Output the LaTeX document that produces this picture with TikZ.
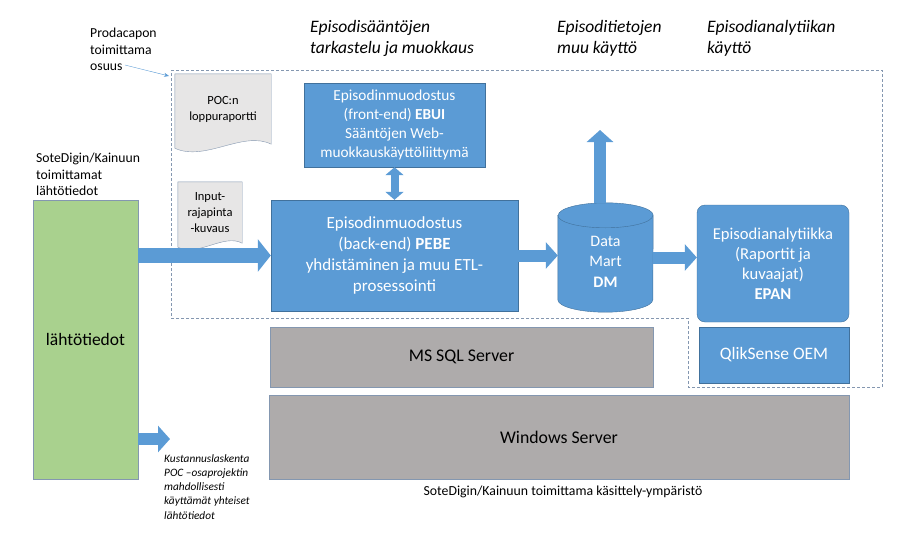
\documentclass[tikz,border=0pt]{standalone}
\usepackage{fontspec}
\setmainfont{Carlito}
\usepackage{tikz}
\usetikzlibrary{shapes,positioning,arrows.meta,backgrounds}
\definecolor{boxblue}{HTML}{5B9BD5}
\definecolor{boxline}{HTML}{41719C}
\definecolor{srvgray}{HTML}{AEABAB}
\definecolor{srvline}{HTML}{8497B0}
\definecolor{docgray}{HTML}{E7E6E6}
\definecolor{srcgreen}{HTML}{A9D18E}
\tikzstyle{fatarrow} = [boxblue, line width=12pt, -{Triangle[length=12pt,width=26pt]}]

\begin{document}
\begin{tikzpicture}[x=1pt,y=-1pt]

  \useasboundingbox (0,0) rectangle (904,538);

  \coordinate (Source) at (85.5,339.5);
  \coordinate (Poc) at (223,109);
  \coordinate (Input) at (210,212.5);
  \coordinate (Ebui) at (394.5,125);
  \coordinate (Pebe) at (394.5,255.5);
  \coordinate (Mart) at (605.5,257.5);
  \coordinate (Epan) at (773,263.5);
  \coordinate (Qlik) at (774,355);
  \coordinate (Sql) at (461.5,357);
  \coordinate (Win) at (559,437);
  \coordinate (MartOut) at (600,130);
  \coordinate (CostOut) at (170,439);
  \coordinate (FrameCorner) at (169,76);

  \tikzstyle{bbox}=[draw=boxline,fill=boxblue,text=white,
                    shape=rectangle,inner sep=2pt,align=center,
                    font=\fontsize{17}{21}\selectfont];
  \tikzstyle{gbox}=[draw=srvline,fill=srvgray,
                    shape=rectangle,inner sep=2pt,
                    font=\fontsize{17.8}{20}\selectfont];
  \tikzstyle{dbox}=[draw=srvline,fill=docgray];
  \tikzstyle{dtext}=[inner sep=0pt,align=center,
                    font=\fontsize{12.5}{16}\selectfont];
  \tikzstyle{note}=[inner sep=0pt,align=left,anchor=north west,
                    font=\fontsize{13.7}{16.5}\selectfont];
  \tikzstyle{head}=[inner sep=0pt,align=left,anchor=north west,
                    font=\fontsize{17.5}{21}\selectfont\itshape];

%  Prodacapon part
  \draw[srvline,dash pattern=on 3pt off 2pt]
       (171,70) -- (882,70) -- (882,387) -- (688,387)
       -- (688,318) -- (171,318) -- cycle;

  \node[head] (RuleHead) at (310,20) {Episodisääntöjen\\tarkastelu ja muokkaus};
  \node[head] (UseHead) at (557,20) {Episoditietojen\\muu käyttö};
  \node[head] (AnaHead) at (707,20) {Episodianalytiikan\\käyttö};

  \node[note] (ProdText) at (90,28) {Prodacapon\\toimittama\\osuus};
  \draw[boxblue,-{Stealth[length=5pt,width=4pt]}]
       ([xshift=-32pt,yshift=6pt]ProdText.south east) -- (FrameCorner);

  \node[note] (SoteText) at (36,153) {SoteDigin/Kainuun\\toimittamat\\lähtötiedot};

  \node[draw=srvline,fill=srcgreen,minimum width=105pt,minimum height=279pt,
        font=\fontsize{17.5}{22}\selectfont] (SourceBox) at (Source) {lähtötiedot};

  \node[dtext,minimum width=96pt,minimum height=70pt] (PocBox) at (Poc)
       {POC:n\\loppuraportti};
  \node[dtext,minimum width=64pt,minimum height=61pt] (InputBox) at (Input)
       {Input-\\rajapinta\\-kuvaus};
  \begin{scope}[on background layer]
    \draw[dbox] (PocBox.north west) -- (PocBox.north east) -- (PocBox.south east)
         .. controls +(-28,-14) and +(30,14) .. ([yshift=-4pt]PocBox.south west) -- cycle;
    \draw[dbox] (InputBox.north west) -- (InputBox.north east) -- (InputBox.south east)
         .. controls +(-18,-10) and +(20,10) .. ([yshift=-4pt]InputBox.south west) -- cycle;
  \end{scope}

  \node[bbox,minimum width=181pt,minimum height=84pt,
        font=\fontsize{15.3}{19}\selectfont] (EbuiBox) at (Ebui)
       {Episodinmuodostus\\(front-end) \textbf{EBUI}\\Sääntöjen Web-\\muokkauskäyttöliittymä};

  \node[bbox,minimum width=247pt,minimum height=111pt] (PebeBox) at (Pebe)
       {Episodinmuodostus\\(back-end) \textbf{PEBE}\\yhdistäminen ja muu ETL-\\prosessointi};
  \draw[fatarrow,line width=8pt,{Triangle[length=8pt,width=18pt]}-{Triangle[length=8pt,width=18pt]}]
       (EbuiBox) -- (PebeBox);
  \draw[fatarrow,line width=15pt,-{Triangle[length=13pt,width=32pt]}]
       (SourceBox.east |- PebeBox.west) -- (PebeBox.west);

  \node[minimum width=95pt,minimum height=109pt,inner sep=0pt] (MartBox) at (Mart) {};
  \draw[draw=boxline,fill=boxblue] ([yshift=-12.5pt]MartBox.north west)
       -- ([yshift=12.5pt]MartBox.south west)
       arc[start angle=180,end angle=360,x radius=47.5pt,y radius=12.5pt]
       -- ([yshift=-12.5pt]MartBox.north east)
       arc[start angle=0,end angle=180,x radius=47.5pt,y radius=12.5pt] -- cycle;
  \draw[boxline] ([yshift=-12.5pt]MartBox.north west)
       arc[start angle=180,end angle=360,x radius=47.5pt,y radius=12.5pt];
  \node[text=white,align=center,font=\fontsize{16}{20.5}\selectfont] (MartText)
       at ([yshift=-4pt]MartBox.center) {Data\\Mart\\\textbf{DM}};
  \draw[fatarrow] (PebeBox.east) -- (PebeBox.east -| MartBox.west);
  \draw[fatarrow] (MartOut |- MartBox.north) -- (MartOut);

  \node[bbox,rounded corners=8pt,minimum width=152pt,minimum height=117pt,
        font=\fontsize{16.6}{20}\selectfont] (EpanBox) at (Epan)
       {Episodianalytiikka\\(Raportit ja\\kuvaajat)\\\textbf{EPAN}};
  \draw[fatarrow] (MartBox.east) -- (MartBox.east -| EpanBox.west);

  \node[bbox,minimum width=150pt,minimum height=56pt,
        font=\fontsize{17.5}{21}\selectfont] (QlikBox) at (Qlik) {QlikSense OEM};

  \node[gbox,minimum width=383pt,minimum height=60pt] (SqlBox) at (Sql) {MS SQL Server};
  \node[gbox,minimum width=580pt,minimum height=84pt] (WinBox) at (Win) {Windows Server};
  \node[font=\fontsize{13.8}{15}\selectfont] (EnvText) at (563,492)
       {SoteDigin/Kainuun toimittama käsittely-ympäristö};

  \draw[fatarrow] (SourceBox.east |- CostOut) -- (CostOut);
  \node[note,font=\fontsize{11.3}{14.3}\selectfont\itshape] (CostText) at (164,454)
       {Kustannuslaskenta\\POC –osaprojektin\\mahdollisesti\\käyttämät yhteiset\\lähtötiedot};

\end{tikzpicture}
\end{document}
